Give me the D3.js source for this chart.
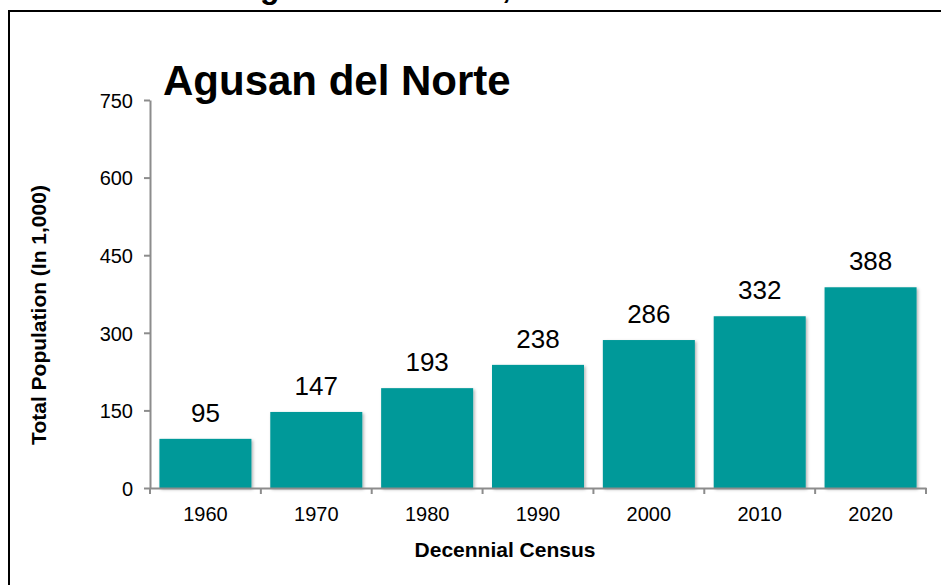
<!DOCTYPE html>
<html>
<head>
<meta charset="utf-8">
<script src="https://cdn.jsdelivr.net/npm/d3@7"></script>
<style>
  body { margin: 0; background: #fff; }
  svg { display: block; font-family: "Liberation Sans", Arial, sans-serif; }
  .axis path, .axis line { stroke: #8c8c8c; stroke-width: 2; }
  .axis text { fill: #000; font-size: 20px; }
</style>
</head>
<body>
<svg id="chart" width="941" height="585"></svg>
<script>
"use strict";

// census years and population (in thousands)
var years = ['1960', '1970', '1980', '1990', '2000', '2010', '2020'];
var population = [95, 147, 193, 238, 286, 332, 388];
var yTicks = [0, 150, 300, 450, 600, 750];

var svg = d3.select('#chart');
var W = 941, H = 585;
var margin = { left: 150, right: 15, top: 100, bottom: 97 };

// soft shadow for the bars
var defs = svg.append('defs');
var f = defs.append('filter').attr('id', 'shadow')
	.attr('x', '-5%').attr('y', '-5%').attr('width', '115%').attr('height', '115%');
f.append('feDropShadow').attr('dx', 1.5).attr('dy', 1.5).attr('stdDeviation', 1.5)
	.attr('flood-color', '#000').attr('flood-opacity', 0.3);

// cropped page title, only the descenders peek in
svg.append('text')
	.attr('x', 237).attr('y', -2)
	.attr('font-size', 32).attr('font-weight', 'bold')
	.text('Agusan del Norte, 1960-2020');

// frame
svg.append('rect')
	.attr('x', 9).attr('y', 11).attr('width', W + 20).attr('height', H + 20)
	.attr('fill', 'none').attr('stroke', '#000').attr('stroke-width', 2);

var x = d3.scaleBand()
	.domain(years)
	.range([margin.left, W - margin.right])
	.paddingInner(0.17).paddingOuter(0.085);

var y = d3.scaleLinear()
	.domain([0, 750])
	.range([H - margin.bottom, margin.top]);

// bars
svg.append('g').selectAll('rect')
	.data(population).enter()
	.append('rect')
		.attr('x', function(d, i){ return x(years[i]); })
		.attr('y', function(d){ return y(d); })
		.attr('width', x.bandwidth())
		.attr('height', function(d){ return y(0) - y(d); })
		.attr('fill', '#009999')
		.attr('filter', 'url(#shadow)');

// value labels
svg.append('g').selectAll('text')
	.data(population).enter()
	.append('text')
		.attr('x', function(d, i){ return x(years[i]) + x.bandwidth() / 2; })
		.attr('y', function(d){ return y(d) - 17; })
		.attr('text-anchor', 'middle')
		.attr('font-size', 26)
		.text(function(d){ return d; });

// y axis
var yAxis = svg.append('g').attr('class', 'axis')
	.attr('transform', 'translate(' + margin.left + ',0)')
	.call(d3.axisLeft(y).tickValues(yTicks).tickSize(6).tickPadding(11).tickSizeOuter(0));
yAxis.selectAll('text').attr('dy', '0.36em');

// x axis: ticks sit between the categories
var xAxis = svg.append('g').attr('class', 'axis')
	.attr('transform', 'translate(0,' + y(0) + ')')
	.call(d3.axisBottom(x).tickSize(0).tickPadding(19).tickSizeOuter(0));
var step = x.step();
xAxis.selectAll('.sep')
	.data(d3.range(years.length + 1)).enter()
	.append('line')
		.attr('class', 'sep')
		.attr('x1', function(i){ return margin.left + i * step; })
		.attr('x2', function(i){ return margin.left + i * step; })
		.attr('y1', 0).attr('y2', 6);

// axis titles
svg.append('text')
	.attr('x', 505).attr('y', 557)
	.attr('text-anchor', 'middle')
	.attr('font-size', 21).attr('font-weight', 'bold')
	.text('Decennial Census');

svg.append('text')
	.attr('transform', 'translate(46,' + 315 + ') rotate(-90)')
	.attr('text-anchor', 'middle')
	.attr('font-size', 21).attr('font-weight', 'bold')
	.text('Total Population (In 1,000)');

// chart title
svg.append('text')
	.attr('x', 163).attr('y', 95)
	.attr('font-size', 42).attr('font-weight', 'bold')
	.text('Agusan del Norte');
</script>
</body>
</html>
